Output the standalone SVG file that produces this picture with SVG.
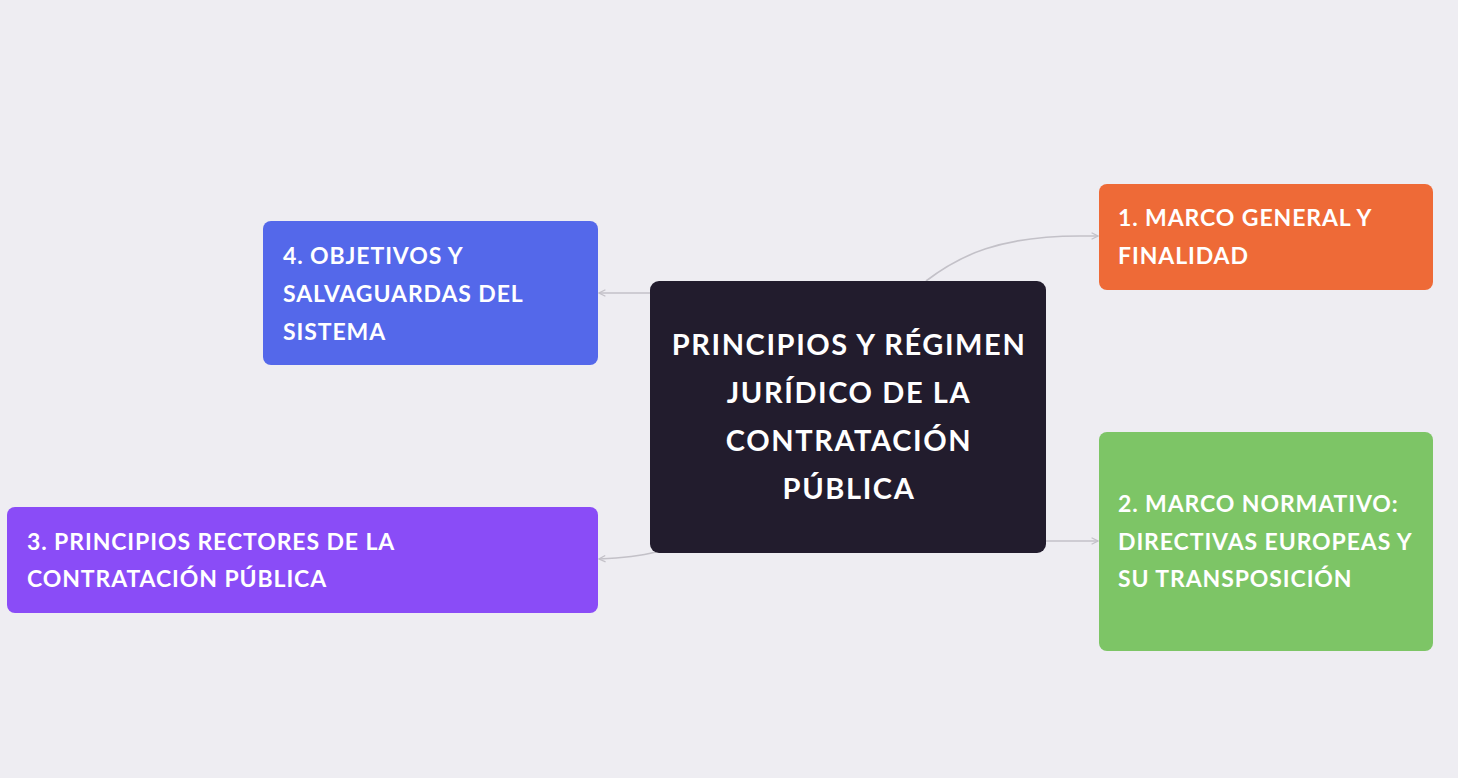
<svg xmlns="http://www.w3.org/2000/svg" width="1458" height="778" viewBox="0 0 1458 778">
<defs>
<style>
.t{font-family:Lato,"Open Sans","Liberation Sans",sans-serif;font-weight:bold;fill:#ffffff;font-size:23px;letter-spacing:0.9px;}
.c{font-size:29px;letter-spacing:1.6px;text-anchor:middle;}
.e{fill:none;stroke:#c3c1c8;stroke-width:1.6;}
</style>
<marker id="ah" viewBox="0 0 10 10" refX="9" refY="5" markerWidth="8" markerHeight="8" markerUnits="userSpaceOnUse" orient="auto">
<path d="M1,1 L9,5 L1,9" fill="none" stroke="#c3c1c8" stroke-width="1.6"/>
</marker>
</defs>
<rect width="1458" height="778" fill="#eeedf2"/>
<g id="connectors">
<path class="e" d="M926,281 C960,255 1000,236 1080,236 L1098,236" marker-end="url(#ah)"/>
<path class="e" d="M1046,541 L1098,541" marker-end="url(#ah)"/>
<path class="e" d="M650,293 L599,293" marker-end="url(#ah)"/>
<path class="e" d="M656,552 C640,556 620,558 599,559" marker-end="url(#ah)"/>
</g>
<g id="center">
<rect x="650" y="281" width="396" height="272" rx="9" fill="#221c2d"/>
<text class="t c" x="849" y="355">PRINCIPIOS Y RÉGIMEN</text>
<text class="t c" x="849" y="403">JURÍDICO DE LA</text>
<text class="t c" x="849" y="451">CONTRATACIÓN</text>
<text class="t c" x="849" y="499">PÚBLICA</text>
</g>
<g id="node1">
<rect x="1099" y="184" width="334" height="106" rx="8" fill="#ee6a37"/>
<text class="t" x="1118" y="226">1. MARCO GENERAL Y</text>
<text class="t" x="1118" y="264">FINALIDAD</text>
</g>
<g id="node2">
<rect x="1099" y="432" width="334" height="219" rx="8" fill="#7dc566"/>
<text class="t" x="1118" y="512">2. MARCO NORMATIVO:</text>
<text class="t" x="1118" y="550">DIRECTIVAS EUROPEAS Y</text>
<text class="t" x="1118" y="587">SU TRANSPOSICIÓN</text>
</g>
<g id="node4">
<rect x="263" y="221" width="335" height="144" rx="8" fill="#5468ea"/>
<text class="t" x="283" y="264">4. OBJETIVOS Y</text>
<text class="t" x="283" y="302">SALVAGUARDAS DEL</text>
<text class="t" x="283" y="340">SISTEMA</text>
</g>
<g id="node3">
<rect x="7" y="507" width="591" height="106" rx="8" fill="#8a4cf7"/>
<text class="t" x="27" y="550">3. PRINCIPIOS RECTORES DE LA</text>
<text class="t" x="27" y="587">CONTRATACIÓN PÚBLICA</text>
</g>
</svg>
